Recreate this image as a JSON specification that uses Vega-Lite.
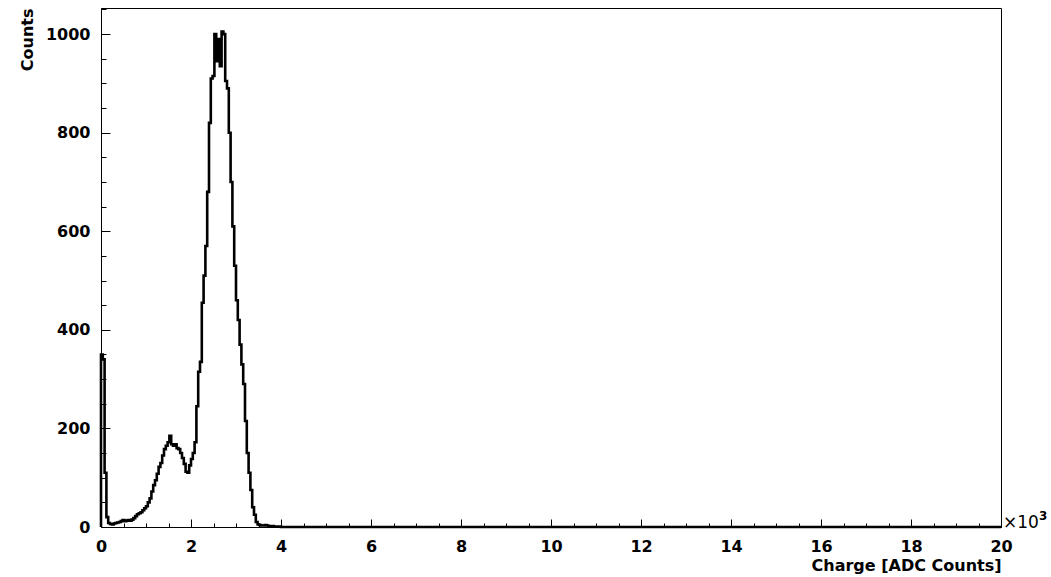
{
  "$schema": "https://vega.github.io/schema/vega-lite/v6.json",
  "autosize": "none",
  "width": 900,
  "height": 519,
  "padding": {"left": 101, "top": 8, "right": 50, "bottom": 50},
  "background": "white",
  "config": {
    "view": {"stroke": "black", "strokeWidth": 1},
    "font": "DejaVu Sans",
    "axis": {
      "domainColor": "black",
      "labelColor": "black",
      "titleColor": "black",
      "labelFont": "DejaVu Sans",
      "titleFont": "DejaVu Sans",
      "labelFontWeight": "bold",
      "titleFontWeight": "bold",
      "labelFontSize": 16,
      "titleFontSize": 16
    }
  },
  "datasets": {
    "hist": [
      {"charge": 0, "counts": 0},
      {"charge": 0, "counts": 350},
      {"charge": 40, "counts": 340},
      {"charge": 80, "counts": 110},
      {"charge": 120, "counts": 20},
      {"charge": 160, "counts": 8},
      {"charge": 200, "counts": 6},
      {"charge": 240, "counts": 5},
      {"charge": 280, "counts": 7},
      {"charge": 320, "counts": 8},
      {"charge": 360, "counts": 9},
      {"charge": 400, "counts": 10},
      {"charge": 440, "counts": 12},
      {"charge": 480, "counts": 14},
      {"charge": 520, "counts": 12},
      {"charge": 560, "counts": 13},
      {"charge": 600, "counts": 14},
      {"charge": 640, "counts": 13},
      {"charge": 680, "counts": 15},
      {"charge": 720, "counts": 18},
      {"charge": 760, "counts": 22},
      {"charge": 800, "counts": 26},
      {"charge": 840, "counts": 28},
      {"charge": 880, "counts": 30},
      {"charge": 920, "counts": 34},
      {"charge": 960, "counts": 38},
      {"charge": 1000, "counts": 42},
      {"charge": 1040, "counts": 50},
      {"charge": 1080, "counts": 58},
      {"charge": 1120, "counts": 72},
      {"charge": 1160, "counts": 85},
      {"charge": 1200, "counts": 95},
      {"charge": 1240, "counts": 108},
      {"charge": 1280, "counts": 122},
      {"charge": 1320, "counts": 130},
      {"charge": 1360, "counts": 145},
      {"charge": 1400, "counts": 158},
      {"charge": 1440, "counts": 165},
      {"charge": 1480, "counts": 172},
      {"charge": 1520, "counts": 185},
      {"charge": 1560, "counts": 168},
      {"charge": 1600, "counts": 165},
      {"charge": 1640, "counts": 168},
      {"charge": 1680, "counts": 160},
      {"charge": 1720, "counts": 158},
      {"charge": 1760, "counts": 150},
      {"charge": 1800, "counts": 140},
      {"charge": 1840, "counts": 128},
      {"charge": 1880, "counts": 112},
      {"charge": 1920, "counts": 110},
      {"charge": 1960, "counts": 125},
      {"charge": 2000, "counts": 138},
      {"charge": 2040, "counts": 150},
      {"charge": 2080, "counts": 172},
      {"charge": 2120, "counts": 245},
      {"charge": 2160, "counts": 315},
      {"charge": 2200, "counts": 335},
      {"charge": 2240, "counts": 455},
      {"charge": 2280, "counts": 510},
      {"charge": 2320, "counts": 570},
      {"charge": 2360, "counts": 680},
      {"charge": 2400, "counts": 820},
      {"charge": 2440, "counts": 910},
      {"charge": 2480, "counts": 915},
      {"charge": 2520, "counts": 1000},
      {"charge": 2560, "counts": 945},
      {"charge": 2600, "counts": 990},
      {"charge": 2640, "counts": 935},
      {"charge": 2680, "counts": 1005},
      {"charge": 2720, "counts": 1000},
      {"charge": 2760, "counts": 905},
      {"charge": 2800, "counts": 890},
      {"charge": 2840, "counts": 800},
      {"charge": 2880, "counts": 700},
      {"charge": 2920, "counts": 610},
      {"charge": 2960, "counts": 530},
      {"charge": 3000, "counts": 460},
      {"charge": 3040, "counts": 420},
      {"charge": 3080, "counts": 370},
      {"charge": 3120, "counts": 330},
      {"charge": 3160, "counts": 290},
      {"charge": 3200, "counts": 215},
      {"charge": 3240, "counts": 150},
      {"charge": 3280, "counts": 110},
      {"charge": 3320, "counts": 75},
      {"charge": 3360, "counts": 40},
      {"charge": 3400, "counts": 25},
      {"charge": 3440, "counts": 10},
      {"charge": 3480, "counts": 5},
      {"charge": 3520, "counts": 4},
      {"charge": 3560, "counts": 3},
      {"charge": 3600, "counts": 3},
      {"charge": 3640, "counts": 4},
      {"charge": 3680, "counts": 3},
      {"charge": 3720, "counts": 2},
      {"charge": 3760, "counts": 2},
      {"charge": 3800, "counts": 2},
      {"charge": 3840, "counts": 1},
      {"charge": 3880, "counts": 1},
      {"charge": 3920, "counts": 1},
      {"charge": 3960, "counts": 1},
      {"charge": 4000, "counts": 0},
      {"charge": 20000, "counts": 0}
    ],
    "note": [{"charge": 20000, "counts": 0, "label": "×10", "power": "3"}]
  },
  "resolve": {"axis": {"x": "independent", "y": "independent"}},
  "layer": [
    {
      "data": {"name": "hist"},
      "mark": {"type": "line", "interpolate": "step-after", "color": "black", "strokeWidth": 2.6},
      "encoding": {
        "x": {
          "field": "charge", "type": "quantitative",
          "scale": {"domain": [0, 20000], "nice": false, "zero": false},
          "axis": {
            "orient": "bottom",
            "grid": false,
            "values": [0, 2000, 4000, 6000, 8000, 10000, 12000, 14000, 16000, 18000, 20000],
            "labelExpr": "format(datum.value / 1000, 'd')",
            "ticks": false,
            "labelPadding": 11,
            "labelFlush": false,
            "labelOverlap": false,
            "title": "Charge [ADC Counts]",
            "titleAnchor": "end",
            "titlePadding": 3
          }
        },
        "y": {
          "field": "counts", "type": "quantitative",
          "scale": {"domain": [0, 1053], "nice": false},
          "axis": {
            "orient": "left",
            "grid": false,
            "values": [0, 200, 400, 600, 800, 1000],
            "format": "d",
            "ticks": false,
            "labelPadding": 11,
            "labelFlush": false,
            "labelOverlap": false,
            "title": "Counts",
            "titleAnchor": "end",
            "titlePadding": 10
          }
        }
      }
    },
    {
      "data": {"name": "note"},
      "mark": {"type": "text", "align": "left", "baseline": "alphabetic", "dx": 2, "dy": 1, "fontSize": 17, "font": "DejaVu Sans", "color": "black"},
      "encoding": {
        "x": {
          "field": "charge", "type": "quantitative",
          "axis": {
            "orient": "top",
            "offset": -519,
            "gridOpacity": 0,
            "tickCount": 10,
            "labelOpacity": 0,
            "domainOpacity": 0,
            "titleOpacity": 0,
            "tickSize": 8,
            "tickColor": "black",
            "tickWidth": 1
          }
        },
        "y": {
          "field": "counts", "type": "quantitative",
          "axis": {
            "orient": "right",
            "offset": -900,
            "gridOpacity": 0,
            "tickCount": 5,
            "labelOpacity": 0,
            "domainOpacity": 0,
            "titleOpacity": 0,
            "tickSize": 9,
            "tickColor": "black",
            "tickWidth": 1
          }
        },
        "text": {"field": "label"}
      }
    },
    {
      "data": {"name": "note"},
      "mark": {"type": "text", "align": "left", "baseline": "alphabetic", "dx": 38, "dy": -7, "fontSize": 12, "fontWeight": "bold", "font": "DejaVu Sans", "color": "black"},
      "encoding": {
        "x": {
          "field": "charge", "type": "quantitative",
          "axis": {
            "orient": "top",
            "offset": -519,
            "gridOpacity": 0,
            "tickCount": 40,
            "labelOpacity": 0,
            "domainOpacity": 0,
            "titleOpacity": 0,
            "tickSize": 4,
            "tickColor": "black",
            "tickWidth": 1
          }
        },
        "y": {
          "field": "counts", "type": "quantitative",
          "axis": {
            "orient": "right",
            "offset": -900,
            "gridOpacity": 0,
            "tickCount": 21,
            "labelOpacity": 0,
            "domainOpacity": 0,
            "titleOpacity": 0,
            "tickSize": 5,
            "tickColor": "black",
            "tickWidth": 1
          }
        },
        "text": {"field": "power"}
      }
    }
  ]
}
